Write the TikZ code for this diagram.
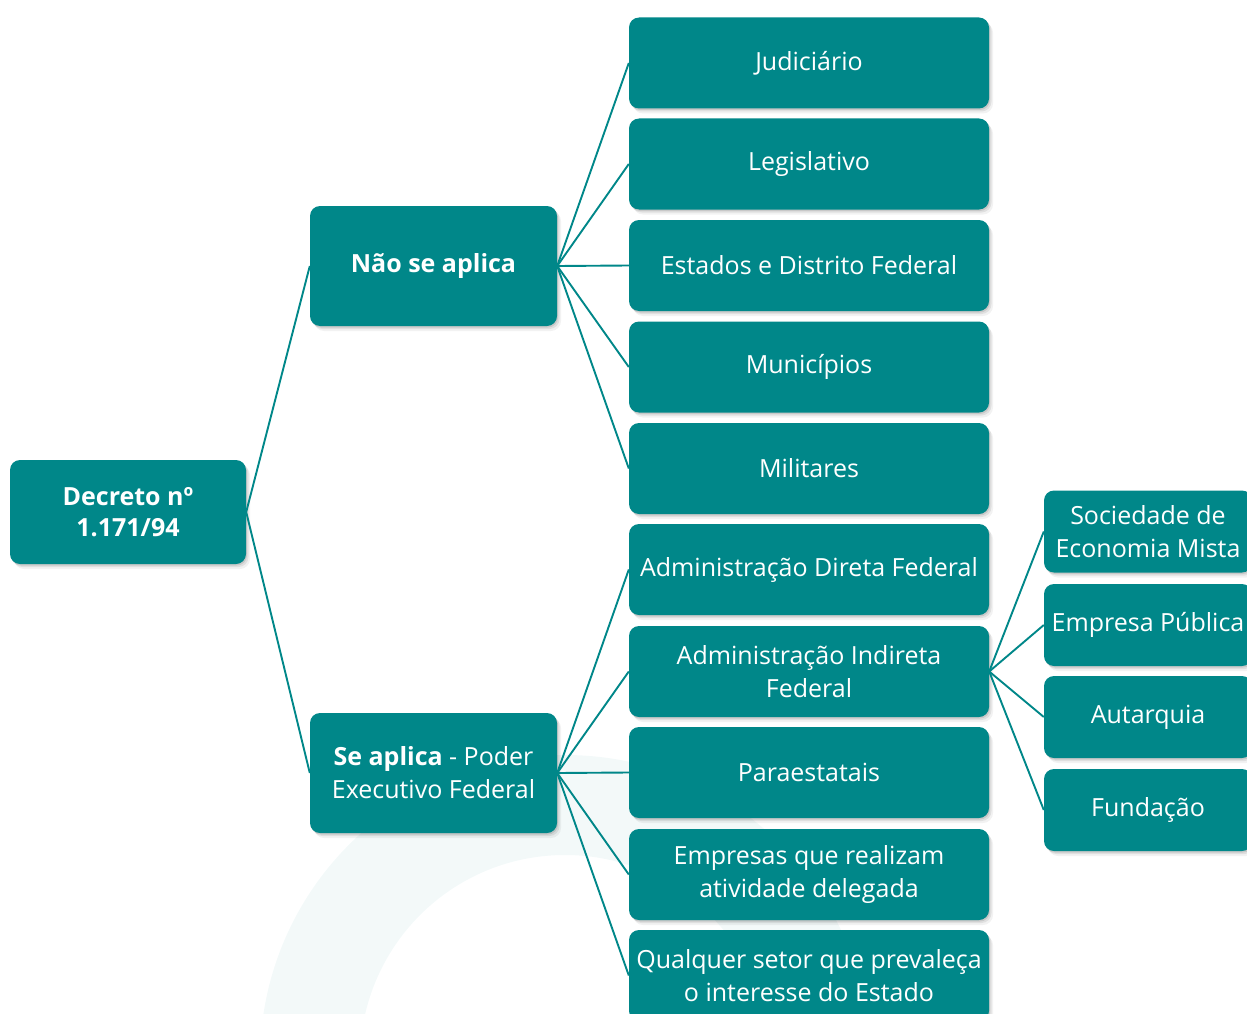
\documentclass[tikz,border=0pt]{standalone}
\usepackage{fontspec}
\setmainfont{Open Sans}
\usetikzlibrary{shadows}
\definecolor{teal1}{RGB}{0,135,137}
\definecolor{ring}{RGB}{243,249,249}
\tikzset{
  box/.style={fill=teal1, rounded corners=10pt, text=white, align=center,
    inner sep=0pt, font=\fontsize{25}{33}\selectfont,
    general shadow={fill=black, opacity=0.10, shadow xshift=1pt, shadow yshift=-1.5pt},
    general shadow={fill=black, opacity=0.08, shadow xshift=2.5pt, shadow yshift=-3pt},
    general shadow={fill=black, opacity=0.05, shadow xshift=4pt, shadow yshift=-5pt}},
  bigbox/.style={box, minimum width=360pt, minimum height=91pt},
  subbox/.style={box, minimum width=208pt, minimum height=82pt},
  link/.style={draw=teal1, line width=1.9pt}
}
\begin{document}
\begin{tikzpicture}[x=1pt,y=-1pt]
\useasboundingbox (0,0) rectangle (1247,1014);
\clip (0,0) rectangle (1247,1014);
% watermark ring
\fill[ring, even odd rule] (565,1060) circle[radius=305pt] (565,1060) circle[radius=205pt];
% nodes
\node[box, minimum width=236pt, minimum height=104pt, font=\fontsize{25}{31}\selectfont\bfseries] (dec) at (128,512) {Decreto nº\\1.171/94};
\node[box, minimum width=247pt, minimum height=120pt, font=\fontsize{25}{33}\selectfont\bfseries] (nao) at (433.5,266) {Não se aplica};
\node[box, minimum width=247pt, minimum height=120pt] (se) at (433.5,773) {\textbf{Se aplica} - Poder\\Executivo Federal};
\node[bigbox] (jud) at (809,63) {Judiciário};
\node[bigbox] (leg) at (809,164) {Legislativo};
\node[bigbox] (est) at (809,265.5) {Estados e Distrito Federal};
\node[bigbox] (mun) at (809,367) {Municípios};
\node[bigbox] (mil) at (809,468.5) {Militares};
\node[bigbox] (dir) at (809,569.5) {Administração Direta Federal};
\node[bigbox] (ind) at (809,671.5) {Administração Indireta\\Federal};
\node[bigbox] (par) at (809,772.5) {Paraestatais};
\node[bigbox] (emp) at (809,874.5) {Empresas que realizam\\atividade delegada};
\node[bigbox] (qua) at (809,975.5) {Qualquer setor que prevaleça\\o interesse do Estado};
\node[subbox] (soc) at (1148,531.5) {Sociedade de\\Economia Mista};
\node[subbox] (pub) at (1148,625) {Empresa Pública};
\node[subbox] (aut) at (1148,717) {Autarquia};
\node[subbox] (fun) at (1148,810) {Fundação};
% links
\foreach \c in {nao,se} \draw[link] (dec.east) -- (\c.west);
\foreach \c in {jud,leg,est,mun,mil} \draw[link] (nao.east) -- (\c.west);
\foreach \c in {dir,ind,par,emp,qua} \draw[link] (se.east) -- (\c.west);
\foreach \c in {soc,pub,aut,fun} \draw[link] (ind.east) -- (\c.west);
\end{tikzpicture}
\end{document}
